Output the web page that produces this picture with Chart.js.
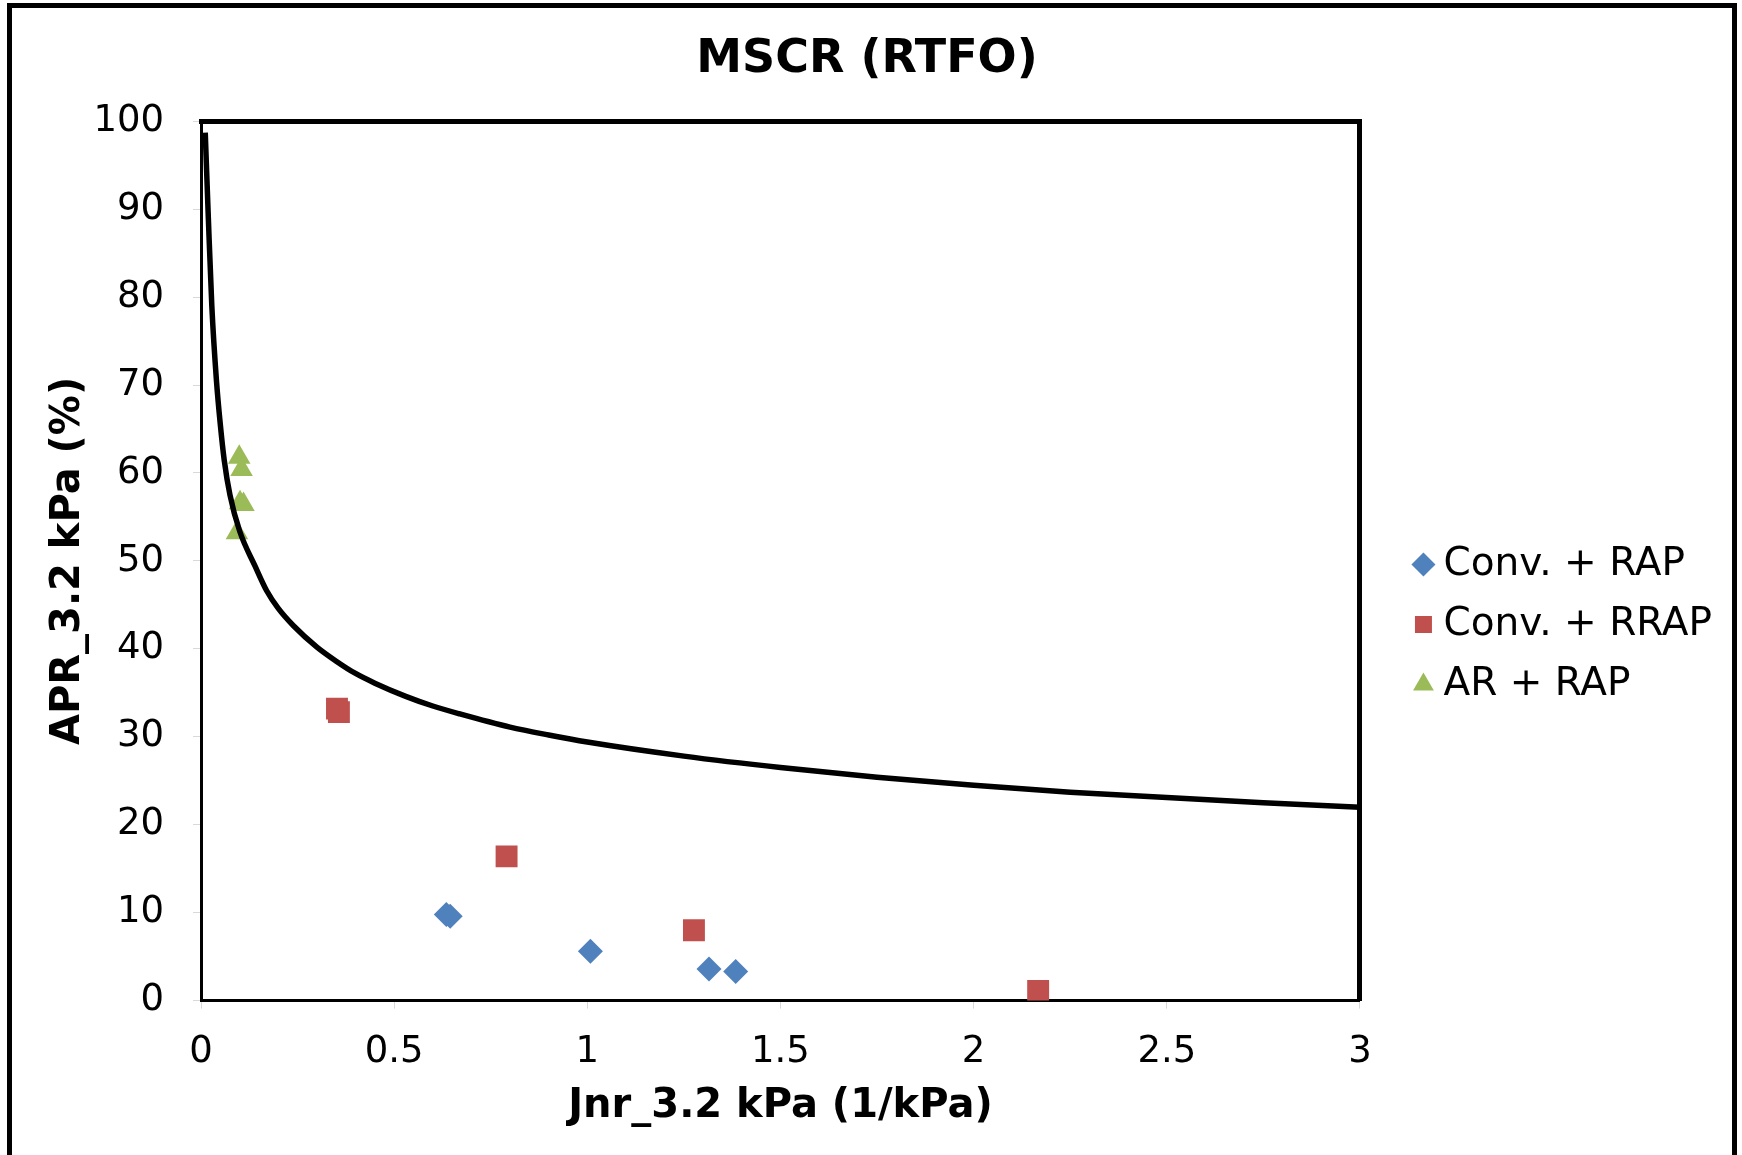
<!DOCTYPE html>
<html>
<head>
<meta charset="utf-8">
<title>MSCR (RTFO)</title>
<script src="https://cdn.jsdelivr.net/npm/chart.js@4.4.1/dist/chart.umd.min.js"></script>
<style>
  html, body { margin: 0; padding: 0; background: #fff; overflow: hidden; }
  #frame {
    position: absolute; left: 7px; top: 3px;
    width: 1720px; height: 1300px;
    border: 5px solid #000;
  }
  #wrap { position: relative; width: 1720px; height: 1233px; }
</style>
</head>
<body>
<div id="frame">
  <div id="wrap"><canvas id="mscrChart" width="1720" height="1233"></canvas></div>
</div>
<script>
// Conv. + RAP
var convRapJnr = [0.635, 0.645, 1.008, 1.315, 1.384];
var convRapApr = [9.8, 9.6, 5.6, 3.6, 3.3];
// Conv. + RRAP
var convRrapJnr = [0.352, 0.357, 0.791, 1.276, 2.167];
var convRrapApr = [33.2, 32.8, 16.4, 8.0, 1.1];
// AR + RAP
var arRapJnr = [0.099, 0.105, 0.101, 0.110, 0.093];
var arRapApr = [61.8, 60.4, 56.6, 56.4, 53.2];
// spec limit line (APR vs Jnr)
var limitJnr = [0.011, 0.019, 0.028, 0.04, 0.05, 0.06, 0.075, 0.1, 0.14, 0.17, 0.2, 0.24, 0.3, 0.35, 0.4, 0.45, 0.53, 0.6, 0.67, 0.8, 0.9, 1, 1.25, 1.5, 1.75, 2, 2.25, 2.5, 2.75, 3];
var limitApr = [98.7, 89.0, 79.0, 70.5, 65.5, 61.5, 57.5, 53.4, 49.4, 46.6, 44.6, 42.6, 40.2, 38.6, 37.2, 36.1, 34.6, 33.5, 32.6, 31.1, 30.2, 29.4, 27.8, 26.5, 25.4, 24.5, 23.7, 23.1, 22.5, 22.0];

var xTicks = { min: 0, max: 3, step: 0.5 };
var yTicks = { min: 0, max: 100, step: 10 };

function toPoints(xs, ys) {
    var pts = [];
    for (var i = 0; i < xs.length; i++) {
        pts.push({ x: xs[i], y: ys[i] });
    }
    return pts;
}

Chart.defaults.font.family = "'DejaVu Sans', Verdana, sans-serif";
Chart.defaults.color = '#000';

var data = {
    datasets: [
        {
            label: 'Conv. + RAP'
            , data: toPoints(convRapJnr, convRapApr)
            , pointStyle: 'rectRot'
            , pointRadius: 12.5
            , backgroundColor: '#4F81BD'
            , borderColor: '#4F81BD'
            , borderWidth: 0
        }
        , {
            label: 'Conv. + RRAP'
            , data: toPoints(convRrapJnr, convRrapApr)
            , pointStyle: 'rect'
            , pointRadius: 15.5
            , backgroundColor: '#C0504D'
            , borderColor: '#C0504D'
            , borderWidth: 0
        }
        , {
            label: 'AR + RAP'
            , data: toPoints(arRapJnr, arRapApr)
            , pointStyle: 'triangle'
            , pointRadius: 13
            , backgroundColor: '#9BBB59'
            , borderColor: '#9BBB59'
            , borderWidth: 0
        }
        , {
            label: 'limit'
            , data: toPoints(limitJnr, limitApr)
            , showLine: true
            , pointRadius: 0
            , borderColor: '#000'
            , borderWidth: 5.5
            , cubicInterpolationMode: 'monotone'
            , order: -1 // keep the line above the markers
        }
    ]
};

var options = {
    responsive: false
    , animation: false
    , devicePixelRatio: 1
    , layout: { padding: { left: 0, right: 10, top: 0, bottom: 0 } }
    , plugins: {
        title: {
            display: true
            , text: 'MSCR (RTFO)'
            , font: { size: 46, weight: 'bold' }
            , padding: { top: 24, bottom: 34 }
        }
        , legend: {
            position: 'right'
            , align: 'center'
            , maxWidth: 400
            , labels: {
                usePointStyle: true
                , boxHeight: 17
                , boxWidth: 1
                , padding: 21
                , font: { size: 39 }
                , filter: function (item) { return item.text !== 'limit'; }
            }
        }
        , tooltip: { enabled: false }
    }
    , scales: {
        x: {
            type: 'linear'
            , position: 'bottom'
            , min: xTicks.min
            , max: xTicks.max
            , ticks: {
                stepSize: xTicks.step
                , font: { size: 37 }
                , padding: 22
                , color: '#000'
                , callback: function (value) { return String(value); }
            }
            , grid: { drawOnChartArea: false, tickLength: 8, color: '#d9d9d9' }
            , border: { color: '#000', width: 3 }
            , title: {
                display: true
                , text: 'Jnr_3.2 kPa (1/kPa)'
                , font: { size: 40, weight: 'bold' }
                , padding: { top: -14, bottom: 110 }
            }
        }
        , y: {
            type: 'linear'
            , position: 'left'
            , min: yTicks.min
            , max: yTicks.max
            , ticks: { stepSize: yTicks.step, font: { size: 37 }, padding: 29, color: '#000' }
            , grid: { drawOnChartArea: false, tickLength: 8, color: '#d9d9d9' }
            , border: { color: '#000', width: 3 }
            , title: {
                display: true
                , text: 'APR_3.2 kPa (%)'
                , font: { size: 40, weight: 'bold' }
                , padding: { top: 33, bottom: 0 }
            }
            , afterFit: function (scale) { scale.width = 189; }
        }
        // top and right edges of the plot box
        , x2: {
            type: 'linear'
            , axis: 'x'
            , position: 'top'
            , ticks: { display: false }
            , grid: { display: false, drawTicks: false }
            , border: { color: '#000', width: 5 }
        }
        , y2: {
            type: 'linear'
            , axis: 'y'
            , position: 'right'
            , ticks: { display: false }
            , grid: { display: false, drawTicks: false }
            , border: { color: '#000', width: 5 }
            , afterFit: function (scale) { scale.width = 42; }
        }
    }
};

var ctx = document.getElementById('mscrChart').getContext('2d');
var mscrChart = new Chart(ctx, { type: 'scatter', data: data, options: options });
</script>
</body>
</html>
